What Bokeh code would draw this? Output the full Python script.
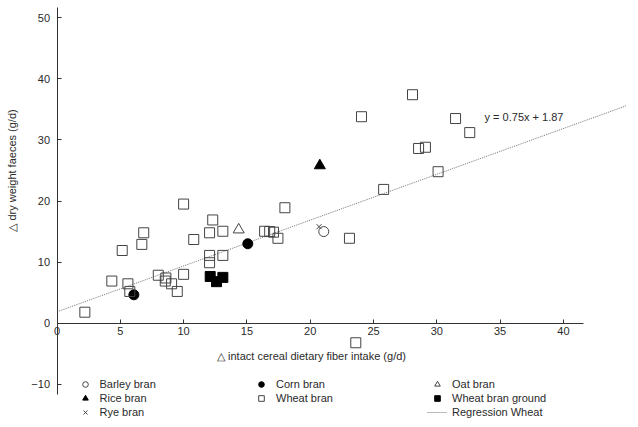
from math import pi
from bokeh.plotting import figure
from bokeh.models import Legend, LegendItem, Label, FixedTicker, Range1d
from bokeh.embed import file_html
from bokeh.resources import INLINE

# ---- data ----
barley_x = [21.07]
barley_y = [15.0]
corn_x = [6.07, 15.07]
corn_y = [4.65, 13.0]
oat_x = [14.35]
oat_y = [15.3]
rice_x = [20.76]
rice_y = [25.8]
wheat_x = [2.2, 4.33, 5.15, 5.6, 5.75, 6.7, 6.85, 8.0, 8.6, 8.55, 9.05, 9.5, 10.0, 10.0,
           10.8, 12.05, 12.05, 12.05, 12.3, 13.1, 13.1, 16.4, 16.8, 17.1, 17.45, 18.0,
           23.1, 23.6, 24.05, 25.8, 28.08, 28.56, 29.1, 30.1, 31.48, 32.6]
wheat_y = [1.8, 6.9, 11.9, 6.45, 5.2, 12.9, 14.8, 7.85, 7.4, 6.9, 6.45, 5.2, 8.0, 19.5,
           13.7, 14.8, 11.1, 9.9, 16.9, 15.05, 11.1, 15.05, 15.0, 14.9, 13.9, 18.9,
           13.9, -3.2, 33.8, 21.9, 37.4, 28.6, 28.8, 24.8, 33.5, 31.2]
wheat_ground_x = [12.1, 12.6, 13.1]
wheat_ground_y = [7.65, 6.8, 7.5]
rye_x = [20.7]
rye_y = [15.8]
slope = 0.75
intercept = 1.87
reg_x = [0, 45]
x_ticks = [0, 5, 10, 15, 20, 25, 30, 35, 40]
y_ticks = [-10, 0, 10, 20, 30, 40, 50]

FONT = "Liberation Sans"
TXT = "#2a2a2a"

W, H = 638, 427
p = figure(width=W, height=H, x_range=Range1d(-4.463, 45.93), y_range=Range1d(-17.07, 52.82),
           output_backend="svg", toolbar_location=None, min_border=0)
p.grid.visible = False
p.outline_line_color = None
p.background_fill_color = "white"

for ax, ticks, loc, bnds in ((p.xaxis[0], x_ticks, 0, (0, 41.6)), (p.yaxis[0], y_ticks, 0, (-11.7, 51.6))):
    ax.ticker = FixedTicker(ticks=ticks)
    ax.fixed_location = loc
    ax.bounds = bnds
    ax.major_tick_in = 4
    ax.major_tick_out = 0
    ax.minor_tick_line_color = None
    ax.axis_line_color = "#333333"
    ax.major_tick_line_color = "#333333"
    ax.major_label_text_font = FONT
    ax.major_label_text_font_size = "11px"
    ax.major_label_text_color = TXT
p.xaxis.major_label_standoff = 4
p.yaxis.major_label_standoff = 7

reg_y = [slope * x + intercept for x in reg_x]
r_reg = p.line(reg_x, reg_y, line_color="#777777", line_width=1, line_dash="1 1")

r_barley = p.scatter(barley_x, barley_y, marker="circle", size=10, line_color="#444444", fill_alpha=0)
r_corn = p.scatter(corn_x, corn_y, marker="circle", size=10, line_color="black", fill_color="black")
r_oat = p.scatter(oat_x, oat_y, marker="triangle", size=11, line_color="#444444", fill_alpha=0)
r_rice = p.scatter(rice_x, rice_y, marker="triangle", size=11, line_color="black", fill_color="black")
r_wheat = p.scatter(wheat_x, wheat_y, marker="square", size=10, line_color="#444444", fill_alpha=0)
r_wg = p.scatter(wheat_ground_x, wheat_ground_y, marker="square", size=10, line_color="black", fill_color="black")
r_rye = p.scatter(rye_x, rye_y, marker="x", size=7, line_color="#444444")

p.add_layout(Label(x=33.77, y=33.7, text=f"y = {slope}x + {intercept}", text_font=FONT,
                   text_font_size="11px", text_color=TXT, text_baseline="middle"))
p.add_layout(Label(x=20.1, y=-5.3, text="\u25b3 intact cereal dietary fiber intake (g/d)",
                   text_font=FONT, text_font_size="11px", text_color=TXT,
                   text_align="center", text_baseline="middle"))
p.add_layout(Label(x=-3.52, y=25.0, text="\u25b3 dry weight faeces (g/d)", angle=pi / 2,
                   text_font=FONT, text_font_size="11px", text_color=TXT,
                   text_align="center", text_baseline="middle"))

cols = [
    ([("Barley bran", r_barley), ("Rice bran", r_rice), ("Rye bran", r_rye)], 74.5, 8),
    ([("Corn bran", r_corn), ("Wheat bran", r_wheat)], 251, 22),
    ([("Oat bran", r_oat), ("Wheat bran ground", r_wg), ("Regression Wheat", r_reg)], 427, 8),
]
for items, lx, ly in cols:
    lg = Legend(items=[LegendItem(label=t, renderers=[r]) for t, r in items],
                location=(lx, ly), orientation="vertical",
                glyph_width=20, glyph_height=14, label_height=14, spacing=0,
                padding=0, margin=0, label_standoff=5,
                label_text_font=FONT, label_text_font_size="11px", label_text_color=TXT,
                border_line_alpha=0, background_fill_alpha=0)
    p.add_layout(lg)

open("out.html", "w").write(file_html(p, INLINE))
